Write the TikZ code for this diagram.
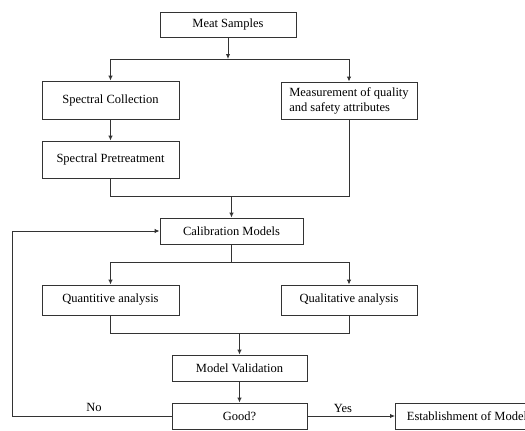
\documentclass[tikz,border=0pt]{standalone}
\usepackage{fontspec}
\setmainfont{Liberation Serif}
\usetikzlibrary{arrows.meta}
\begin{document}
\begin{tikzpicture}[x=1pt,y=-1pt,
  box/.style={draw=black!80,line width=0.9pt,rectangle,inner sep=2pt,font=\fontsize{12.5}{15}\selectfont},
  conn/.style={draw=black!80,line width=0.9pt},
  arr/.style={conn,-{Latex[length=5pt,width=4.5pt]}},
  lbl/.style={font=\fontsize{12.5}{15}\selectfont,inner sep=1pt}]
\useasboundingbox (0,0) rectangle (525,431);
\clip (0,0) rectangle (525,431);
\node[box,minimum width=136pt,minimum height=25pt] (meat) at (228,24.5) {Meat Samples};
\node[box,minimum width=137pt,minimum height=38pt] (spc) at (110.5,100) {Spectral Collection};
\node[box,minimum width=136pt,minimum height=37pt,align=left] (meas) at (349,100.5) {Measurement of quality\\and safety attributes};
\node[box,minimum width=137pt,minimum height=37pt] (spp) at (110.5,159.5) {Spectral Pretreatment};
\node[box,minimum width=143pt,minimum height=26pt] (cal) at (231.5,231) {Calibration Models};
\node[box,minimum width=137pt,minimum height=30pt] (quant) at (110.5,300) {Quantitive analysis};
\node[box,minimum width=136pt,minimum height=30pt] (qual) at (349,300) {Qualitative analysis};
\node[box,minimum width=135pt,minimum height=26pt] (val) at (239.5,368) {Model Validation};
\node[box,minimum width=135pt,minimum height=26pt] (good) at (239.5,416) {Good?};
\node[box,minimum width=143pt,minimum height=26pt,anchor=west] (est) at (395,416) {Establishment of Model};
% junctions
\coordinate (j1) at (228,59);
\coordinate (j2) at (231.5,196);
\coordinate (j3) at (231.5,262);
\coordinate (j4) at (239.5,333);
\coordinate (lp) at (12,416);
\draw[arr] (meat) -- (j1);
\draw[arr] (j1) -| (spc);
\draw[arr] (j1) -| (meas);
\draw[arr] (spc) -- (spp);
\draw[conn] (spp.south) |- (meas.south |- j2) -- (meas.south);
\draw[arr] (j2) -- (cal);
\draw[conn] (cal.south) -- (j3);
\draw[arr] (j3) -| (quant);
\draw[arr] (j3) -| (qual);
\draw[conn] (quant.south) |- (qual.south |- j4) -- (qual.south);
\draw[arr] (j4) -- (val);
\draw[arr] (val) -- (good);
\draw[arr] (good.west) -- (lp) |- (cal.west);
\draw[arr] (good) -- (est);
\node[lbl,anchor=south] (no) at (94,413) {No};
\node[lbl,anchor=south] (yes) at (343,414) {Yes};
\end{tikzpicture}
\end{document}
